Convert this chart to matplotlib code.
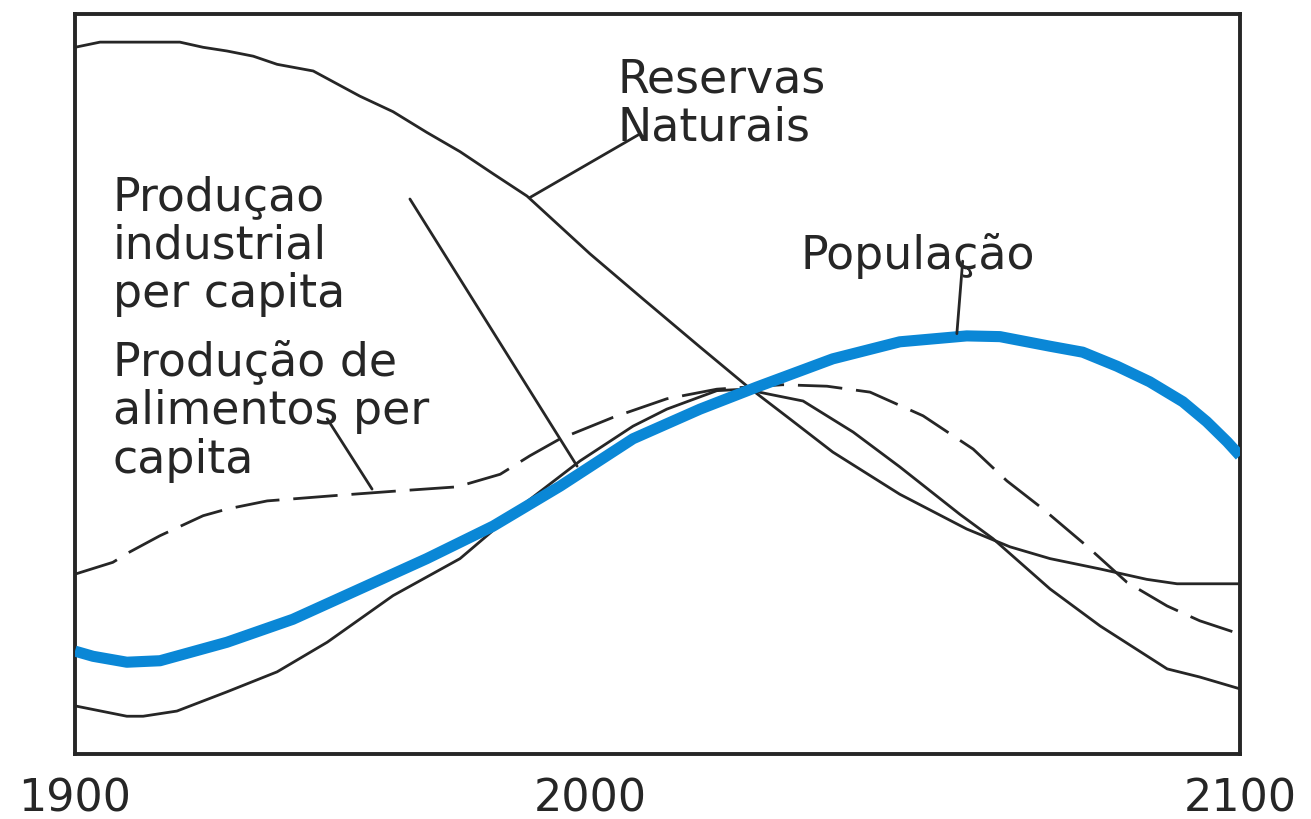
import matplotlib
matplotlib.use("Agg")
import matplotlib.pyplot as plt
from matplotlib.transforms import ScaledTranslation

# Valores (ano, indice 0-100)
anos_reservas = [1900, 1904.3, 1918.0, 1922.0, 1926.1, 1930.6, 1934.7, 1940.9, 1948.9, 1954.6,
                 1960.4, 1966.1, 1971.8, 1977.6, 1988.4, 1997.5, 2007.3, 2015.4, 2022.7, 2030.1,
                 2041.6, 2053.1, 2060.5, 2067.4, 2076.0, 2084.0, 2089.2, 2100]
reservas = [95.5, 96.2, 96.2, 95.5, 95.0, 94.3, 93.2, 92.3, 88.9, 86.8,
            84.0, 81.4, 78.4, 75.4, 67.6, 61.5, 55.0, 49.7, 45.3, 40.8,
            35.1, 30.4, 28.0, 26.4, 25.0, 23.6, 23.0, 23.0]

anos_industria = [1900, 1908.9, 1911.7, 1917.5, 1926.1, 1934.7, 1943.3, 1954.6, 1966.1, 1977.6,
                  1986.7, 1995.8, 2001.6, 2010.2, 2015.0, 2019.3, 2025.0, 2033.6, 2041.6, 2051.9,
                  2057.6, 2067.4, 2076.0, 2087.5, 2093.1, 2100]
industria = [6.5, 5.1, 5.1, 5.8, 8.4, 11.1, 15.1, 21.4, 26.4, 34.1,
             39.6, 44.3, 46.6, 49.1, 49.3, 48.6, 47.7, 43.5, 38.8, 32.4,
             29.1, 22.3, 17.3, 11.5, 10.4, 8.8]

anos_alimentos = [1900, 1906.5, 1909.4, 1914.6, 1922.0, 1926.1, 1933.0, 1944.3, 1954.6, 1965.6,
                  1973.0, 1978.1, 1983.3, 1992.4, 2001.6, 2010.2, 2021.5, 2029.1, 2036.5, 2045.6,
                  2054.2, 2060.0, 2066.2, 2073.7, 2080.6, 2087.5, 2093.1, 2100]
alimentos = [24.3, 25.9, 27.3, 29.5, 32.2, 33.1, 34.2, 34.9, 35.5, 36.1,
             37.8, 40.3, 42.6, 45.5, 48.0, 49.3, 49.9, 49.7, 48.9, 45.7,
             41.2, 36.9, 33.1, 28.1, 23.2, 20.0, 18.0, 16.2]

anos_populacao = [1900, 1903.1, 1908.9, 1914.6, 1926.1, 1937.4, 1948.9, 1960.4, 1971.8, 1983.3,
                  1995.8, 2007.3, 2017.1, 2030.1, 2041.6, 2053.1, 2058.8, 2067.4, 2073.0, 2078.9,
                  2084.5, 2090.2, 2094.3, 2097.8, 2100]
populacao = [13.9, 13.2, 12.4, 12.6, 15.1, 18.2, 22.3, 26.4, 30.8, 36.2,
             42.6, 46.6, 49.6, 53.4, 55.7, 56.5, 56.4, 55.1, 54.3, 52.4,
             50.3, 47.6, 44.9, 42.2, 40.3]

anos_ticks = [1900, 2000, 2100]

preto = '#262626'
azul = '#0a87d6'
fonte = 'DejaVu Sans'
tam = 33

fig = plt.figure(figsize=(13.11, 8.2), dpi=100)
ax = fig.add_axes([0.0572, 0.0793, 0.8886, 0.9024])

ax.plot(anos_reservas, reservas, color=preto, lw=2, zorder=2)
ax.plot(anos_industria, industria, color=preto, lw=2, zorder=2)
ax.plot(anos_alimentos, alimentos, color=preto, lw=2, dashes=(16, 5), zorder=2)
ax.plot(anos_populacao, populacao, color=azul, lw=8, solid_capstyle='butt',
        solid_joinstyle='round', zorder=3)

ax.set_xlim(1900, 2100)
ax.set_ylim(0, 100)
ax.set_yticks([])
ax.set_xticks(anos_ticks)
ax.set_xticklabels([str(a) for a in anos_ticks], fontsize=32, family=fonte, color=preto)
ax.tick_params(axis='x', length=0, pad=16)
# o rotulo 2000 aparece deslocado para a esquerda no original
lbl = ax.get_xticklabels()[1]
lbl.set_transform(lbl.get_transform() + ScaledTranslation(-0.67, 0, fig.dpi_scale_trans))
for s in ax.spines.values():
    s.set_linewidth(2.8)
    s.set_color(preto)

# rotulos com linhas de chamada
txt = dict(fontsize=tam, family=fonte, color=preto, ha='left', va='top', linespacing=1.1)
linha = dict(arrowstyle='-', lw=2, color=preto, shrinkA=0, shrinkB=0)

ax.text(1993.2, 94.3, 'Reservas\nNaturais', **txt)
ax.annotate('', xy=(1978.1, 75.2), xytext=(1997.0, 83.8), arrowprops=linha)

ax.text(2024.5, 70.5, 'População', **txt)
ax.annotate('', xy=(2051.4, 56.8), xytext=(2052.4, 66.6), arrowprops=linha)

ax.text(1906.5, 78.4, 'Produçao\nindustrial\nper capita', **txt)
ax.annotate('', xy=(1986.2, 38.9), xytext=(1957.5, 75.0), arrowprops=linha)

ax.text(1906.5, 56.0, 'Produção de\nalimentos per\ncapita', **txt)
ax.annotate('', xy=(1951.0, 35.8), xytext=(1943.3, 45.3), arrowprops=linha)

fig.savefig('out.png', dpi=100)
